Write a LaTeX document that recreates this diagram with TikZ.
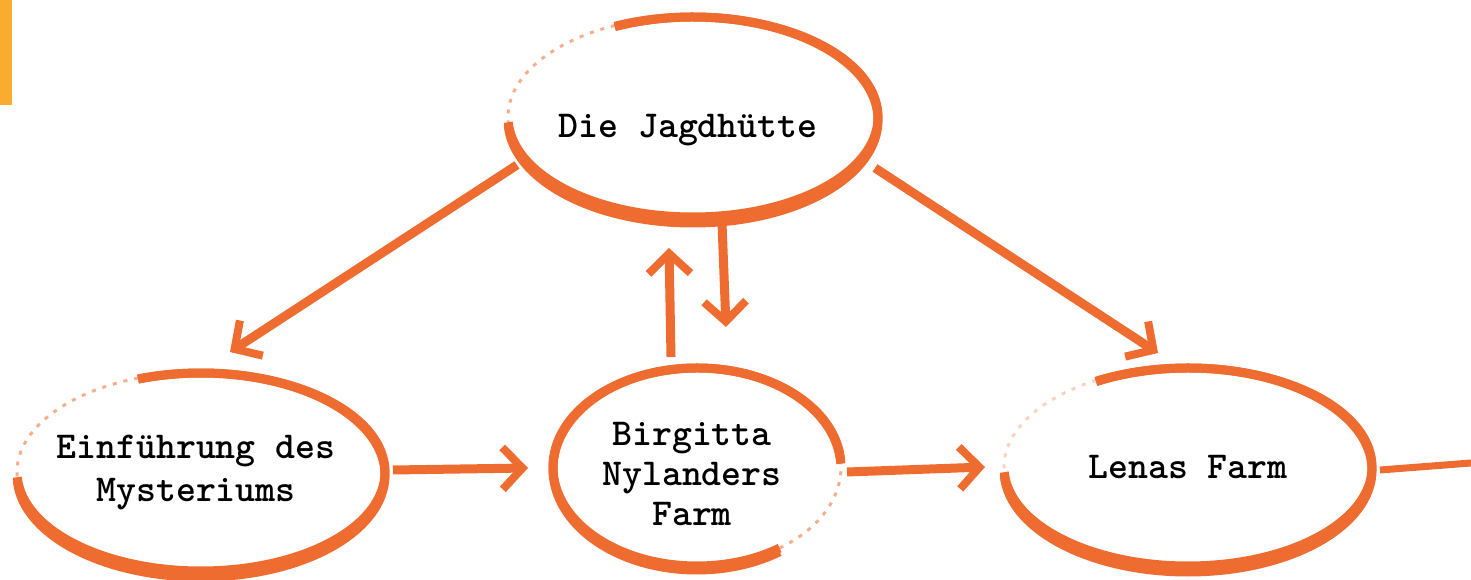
\documentclass[tikz,border=0pt]{standalone}
\usepackage{fontspec}
\usetikzlibrary{arrows.meta,calc,shapes.geometric}
\definecolor{brush}{RGB}{238,108,48}
\definecolor{barc}{RGB}{250,172,48}
\begin{document}
\begin{tikzpicture}[x=1pt,y=1pt,
  label/.style={align=center, inner sep=0pt, text=black,
    font=\fontsize{38}{43}\selectfont\ttfamily\bfseries},
  brushline/.style={draw=brush, line width=9pt},
  faintbrush/.style={draw=brush, line width=3pt, dash pattern=on 4pt off 7pt, opacity=0.55},
  conn/.style={draw=brush, line width=9pt,
    -{Straight Barb[length=20pt,width=42pt,line width=8pt]}},
  plainconn/.style={draw=brush, line width=7pt},
]
\useasboundingbox (0,0) rectangle (1471,580);
\fill[barc] (0,475) rectangle (12,580);

% nodes (text)
\node[label] (top) at (688,450) {Die Jagdhütte};
\node[label] (left) at (196,108) {Einführung des\\Mysteriums};
\node[label, font=\fontsize{38}{40}\selectfont\ttfamily\bfseries] (mid) at (692,106) {Birgitta\\Nylanders\\Farm};
\node[label] (right) at (1188,113) {Lenas Farm};

% ellipse centres
\coordinate (topE) at ($(top)+(5,13)$);
\coordinate (leftE) at ($(left)+(5,0)$);
\coordinate (midE) at ($(mid)+(5,7)$);
\coordinate (rightE) at ($(right)+(0,0)$);
\coordinate (out) at (1471,117);

% brush ellipses: a ring plus a lowered, taller ring, so the stroke grows toward the bottom
\draw[brushline] (topE) ++(183:185pt and 100pt) arc[start angle=183, end angle=475, x radius=185pt, y radius=100pt];
\draw[brushline] ([yshift=-3pt]topE) ++(183:185pt and 103pt) arc[start angle=183, end angle=475, x radius=185pt, y radius=103pt];
\draw[faintbrush] (topE) ++(115:185pt and 101pt) arc[start angle=115, end angle=183, x radius=185pt, y radius=101pt];

\draw[brushline] (leftE) ++(183:184pt and 99pt) arc[start angle=183, end angle=470, x radius=184pt, y radius=99pt];
\draw[brushline] ([yshift=-3pt]leftE) ++(183:184pt and 102pt) arc[start angle=183, end angle=470, x radius=184pt, y radius=102pt];
\draw[faintbrush] (leftE) ++(110:184pt and 100pt) arc[start angle=110, end angle=183, x radius=184pt, y radius=100pt];

\draw[brushline] (midE) ++(3:144pt and 99pt) arc[start angle=3, end angle=305, x radius=144pt, y radius=99pt];
\draw[brushline] ([yshift=-2pt]midE) ++(3:144pt and 101pt) arc[start angle=3, end angle=305, x radius=144pt, y radius=101pt];
\draw[faintbrush] (midE) ++(305:144pt and 99pt) arc[start angle=305, end angle=363, x radius=144pt, y radius=99pt];

\draw[brushline] (rightE) ++(183:184pt and 99pt) arc[start angle=183, end angle=480, x radius=184pt, y radius=99pt];
\draw[brushline] ([yshift=-3pt]rightE) ++(183:184pt and 102pt) arc[start angle=183, end angle=480, x radius=184pt, y radius=102pt];
\draw[faintbrush, opacity=0.3] (rightE) ++(120:184pt and 100pt) arc[start angle=120, end angle=183, x radius=184pt, y radius=100pt];

% connectors
\draw[conn] ($(topE)+(-176,-48)$) -- ($(leftE)+(29,120)$);
\draw[conn] ($(topE)+(182,-51)$) -- ($(rightE)+(-30,114)$);
\draw[conn] ($(midE)+(-26,110)$) -- ($(topE)+(-24,-131)$);
\draw[conn] ($(topE)+(29,-106)$) -- ($(midE)+(29,140)$);
\draw[conn] ($(leftE)+(192,2)$) -- ($(midE)+(-169,-1)$);
\draw[conn] ($(midE)+(150,-5)$) -- ($(rightE)+(-203,0)$);
\draw[plainconn] ($(rightE)+(192,-3)$) -- (out);
\end{tikzpicture}
\end{document}
